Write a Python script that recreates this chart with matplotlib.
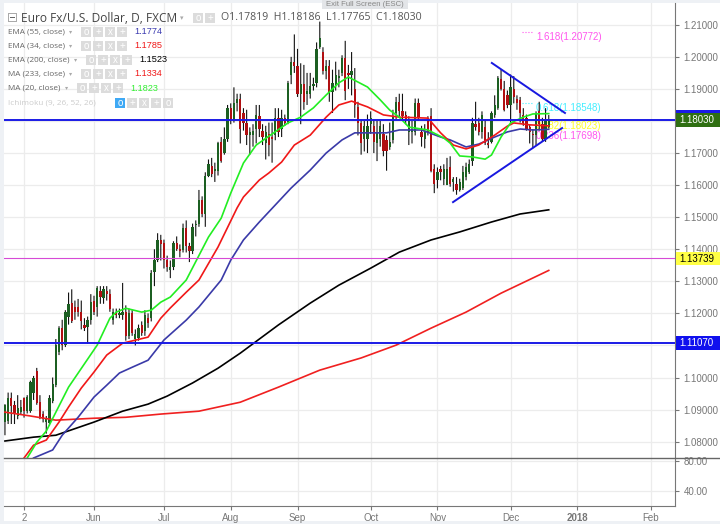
import matplotlib
matplotlib.use('Agg')
import matplotlib.pyplot as plt
from matplotlib.patches import Rectangle

plt.rcParams['font.family'] = ['Liberation Sans', 'DejaVu Sans']

# daily candles
opens = [
    1.0860, 1.0865, 1.0935, 1.0913, 1.0880, 1.0893, 1.0935, 1.0895, 1.0895, 1.0953,
    1.1020, 1.0925, 1.0885, 1.0860, 1.0857, 1.0927, 1.0977, 1.1080, 1.1155, 1.1102,
    1.1190, 1.1232, 1.1220, 1.1220, 1.1205, 1.1165, 1.1158, 1.1180, 1.1238, 1.1220,
    1.1270, 1.1248, 1.1270, 1.1262, 1.1180, 1.1200, 1.1195, 1.1195, 1.1205, 1.1130,
    1.1200, 1.1120, 1.1122, 1.1165, 1.1145, 1.1185, 1.1185, 1.1330, 1.1365, 1.1430,
    1.1420, 1.1365, 1.1335, 1.1345, 1.1420, 1.1400, 1.1397, 1.1465, 1.1410, 1.1395,
    1.1475, 1.1480, 1.1555, 1.1510, 1.1630, 1.1660, 1.1645, 1.1645, 1.1735, 1.1700,
    1.1745, 1.1840, 1.1800, 1.1855, 1.1870, 1.1825, 1.1795, 1.1755, 1.1755, 1.1775,
    1.1815, 1.1770, 1.1730, 1.1760, 1.1750, 1.1755, 1.1810, 1.1775, 1.1810, 1.1797,
    1.1945, 1.1985, 1.1970, 1.1885, 1.1915, 1.1885, 1.1885, 1.1910, 1.1920, 1.2030,
    1.2015, 1.1955, 1.1970, 1.1890, 1.1915, 1.1935, 1.1950, 1.1995, 1.1950, 1.1945,
    1.1900, 1.1845, 1.1795, 1.1745, 1.1745, 1.1790, 1.1785, 1.1730, 1.1745, 1.1760,
    1.1740, 1.1720, 1.1740, 1.1825, 1.1860, 1.1830, 1.1820, 1.1765, 1.1765, 1.1765,
    1.1855, 1.1765, 1.1745, 1.1810, 1.1815, 1.1650, 1.1615, 1.1650, 1.1620, 1.1600,
    1.1655, 1.1610, 1.1605, 1.1585, 1.1590, 1.1625, 1.1640, 1.1675, 1.1790, 1.1795,
    1.1765, 1.1780, 1.1730, 1.1735, 1.1820, 1.1840, 1.1930, 1.1900, 1.1880, 1.1850,
    1.1900, 1.1870, 1.1865, 1.1820, 1.1810, 1.1780, 1.1760, 1.1755, 1.1830, 1.1790,
    1.1745, 1.17819,
]
closes = [
    1.0915, 1.0935, 1.0910, 1.0885, 1.0905, 1.0908, 1.0895, 1.0938, 1.0985, 1.1000,
    1.0920, 1.0875, 1.0870, 1.0870, 1.0935, 1.0980, 1.1100, 1.1155, 1.1100, 1.1205,
    1.1230, 1.1175, 1.1205, 1.1205, 1.1175, 1.1155, 1.1180, 1.1237, 1.1205, 1.1280,
    1.1250, 1.1275, 1.1260, 1.1215, 1.1205, 1.1195, 1.1200, 1.1205, 1.1130, 1.1200,
    1.1140, 1.1135, 1.1155, 1.1140, 1.1195, 1.1170, 1.1325, 1.1365, 1.1430, 1.1415,
    1.1365, 1.1345, 1.1345, 1.1420, 1.1400, 1.1395, 1.1465, 1.1410, 1.1395, 1.1470,
    1.1480, 1.1555, 1.1510, 1.1630, 1.1665, 1.1635, 1.1650, 1.1730, 1.1675, 1.1745,
    1.1840, 1.1805, 1.1855, 1.1870, 1.1775, 1.1795, 1.1755, 1.1765, 1.1770, 1.1820,
    1.1775, 1.1750, 1.1765, 1.1725, 1.1745, 1.1810, 1.1765, 1.1810, 1.1795, 1.1920,
    1.1985, 1.1970, 1.1885, 1.1915, 1.1860, 1.1895, 1.1910, 1.1915, 1.2025, 1.2060,
    1.1955, 1.1970, 1.1890, 1.1920, 1.1945, 1.1940, 1.1995, 1.1895, 1.1945, 1.1955,
    1.1850, 1.1795, 1.1730, 1.1785, 1.1785, 1.1810, 1.1735, 1.1765, 1.1785, 1.1705,
    1.1705, 1.1735, 1.1815, 1.1860, 1.1830, 1.1815, 1.1805, 1.1800, 1.1775, 1.1855,
    1.1810, 1.1750, 1.1770, 1.1765, 1.1645, 1.1605, 1.1640, 1.1640, 1.1650, 1.1650,
    1.1605, 1.1620, 1.1585, 1.1610, 1.1640, 1.1655, 1.1665, 1.1795, 1.1780, 1.1765,
    1.1820, 1.1730, 1.1725, 1.1825, 1.1850, 1.1935, 1.1900, 1.1835, 1.1850, 1.1905,
    1.1875, 1.1855, 1.1825, 1.1795, 1.1775, 1.1765, 1.1755, 1.1825, 1.1790, 1.1745,
    1.1800, 1.18030,
]
highs = [
    1.0917, 1.0953, 1.0953, 1.0927, 1.0945, 1.0930, 1.0938, 1.0945, 1.0990, 1.1005,
    1.1030, 1.0945, 1.0895, 1.0880, 1.0945, 1.1000, 1.1120, 1.1160, 1.1180, 1.1210,
    1.1265, 1.1275, 1.1240, 1.1245, 1.1240, 1.1185, 1.1190, 1.1260, 1.1255, 1.1285,
    1.1285, 1.1285, 1.1285, 1.1275, 1.1215, 1.1215, 1.1215, 1.1295, 1.1225, 1.1215,
    1.1210, 1.1150, 1.1165, 1.1175, 1.1210, 1.1200, 1.1335, 1.1400, 1.1450, 1.1445,
    1.1430, 1.1380, 1.1365, 1.1425, 1.1440, 1.1415, 1.1480, 1.1490, 1.1420, 1.1480,
    1.1490, 1.1585, 1.1565, 1.1640, 1.1680, 1.1685, 1.1670, 1.1735, 1.1750, 1.1780,
    1.1850, 1.1855, 1.1905, 1.1885, 1.1885, 1.1840, 1.1835, 1.1780, 1.1790, 1.1850,
    1.1850, 1.1790, 1.1785, 1.1795, 1.1795, 1.1840, 1.1840, 1.1835, 1.1820, 1.1925,
    1.2000, 1.2070, 1.2025, 1.1980, 1.1975, 1.1950, 1.1950, 1.1935, 1.2045, 1.2110,
    1.2030, 1.1990, 1.1990, 1.1960, 1.1985, 1.1960, 1.2005, 1.2050, 1.1975, 1.2015,
    1.1965, 1.1860, 1.1805, 1.1800, 1.1820, 1.1830, 1.1805, 1.1800, 1.1800, 1.1790,
    1.1755, 1.1795, 1.1835, 1.1875, 1.1885, 1.1885, 1.1830, 1.1815, 1.1800, 1.1870,
    1.1870, 1.1785, 1.1790, 1.1815, 1.1840, 1.1665, 1.1655, 1.1660, 1.1665, 1.1685,
    1.1690, 1.1625, 1.1625, 1.1620, 1.1660, 1.1670, 1.1680, 1.1810, 1.1860, 1.1810,
    1.1830, 1.1805, 1.1765, 1.1830, 1.1880, 1.1940, 1.1960, 1.1925, 1.1895, 1.1945,
    1.1940, 1.1880, 1.1875, 1.1840, 1.1820, 1.1790, 1.1775, 1.1830, 1.1860, 1.1810,
    1.1840, 1.18186,
]
lows = [
    1.0820, 1.0855, 1.0855, 1.0855, 1.0870, 1.0885, 1.0875, 1.0888, 1.0890, 1.0930,
    1.0915, 1.0870, 1.0860, 1.0825, 1.0850, 1.0920, 1.0970, 1.1070, 1.1085, 1.1095,
    1.1165, 1.1170, 1.1180, 1.1190, 1.1150, 1.1145, 1.1105, 1.1165, 1.1195, 1.1190,
    1.1230, 1.1230, 1.1240, 1.1205, 1.1165, 1.1185, 1.1185, 1.1180, 1.1115, 1.1120,
    1.1130, 1.1100, 1.1115, 1.1130, 1.1130, 1.1155, 1.1175, 1.1285, 1.1360, 1.1365,
    1.1340, 1.1330, 1.1310, 1.1335, 1.1395, 1.1375, 1.1390, 1.1390, 1.1360, 1.1385,
    1.1440, 1.1470, 1.1500, 1.1470, 1.1625, 1.1625, 1.1610, 1.1630, 1.1670, 1.1695,
    1.1735, 1.1790, 1.1795, 1.1830, 1.1730, 1.1770, 1.1725, 1.1695, 1.1720, 1.1730,
    1.1750, 1.1725, 1.1680, 1.1690, 1.1670, 1.1740, 1.1750, 1.1750, 1.1785, 1.1790,
    1.1915, 1.1950, 1.1875, 1.1790, 1.1835, 1.1850, 1.1870, 1.1895, 1.1905, 1.2025,
    1.1945, 1.1930, 1.1860, 1.1825, 1.1895, 1.1905, 1.1940, 1.1865, 1.1900, 1.1880,
    1.1810, 1.1755, 1.1695, 1.1705, 1.1700, 1.1760, 1.1700, 1.1675, 1.1720, 1.1690,
    1.1645, 1.1710, 1.1730, 1.1805, 1.1810, 1.1800, 1.1790, 1.1725, 1.1730, 1.1755,
    1.1800, 1.1720, 1.1715, 1.1755, 1.1640, 1.1575, 1.1590, 1.1615, 1.1600, 1.1600,
    1.1595, 1.1580, 1.1570, 1.1580, 1.1585, 1.1615, 1.1635, 1.1660, 1.1770, 1.1755,
    1.1745, 1.1725, 1.1715, 1.1730, 1.1810, 1.1835, 1.1895, 1.1830, 1.1840, 1.1795,
    1.1855, 1.1835, 1.1795, 1.1785, 1.1770, 1.1730, 1.1715, 1.1725, 1.1770, 1.1735,
    1.1735, 1.17765,
]

# moving averages, sampled at a few bars
ma20_x = [7, 10, 13, 20, 29, 33, 35, 38, 43, 46, 49, 52, 57, 64, 68, 71, 75, 79, 89, 93,
          97, 101, 105, 108, 114, 118, 121, 124, 127, 133, 138, 140, 143, 147, 151, 153,
          156, 159, 163, 166, 171]
ma20 = [1.0749, 1.0798, 1.0833, 1.0970, 1.1101, 1.1185, 1.1204, 1.1216, 1.1204, 1.1210,
        1.1235, 1.1251, 1.1304, 1.1438, 1.1497, 1.1575, 1.1669, 1.1725, 1.1794, 1.1812,
        1.1841, 1.1881, 1.1919, 1.1937, 1.1906, 1.1866, 1.1834, 1.1812, 1.1781, 1.1772,
        1.1747, 1.1731, 1.1691, 1.1688, 1.1681, 1.1694, 1.1750, 1.1794, 1.1812, 1.1822,
        1.1823]
ema34_x = [6, 9, 13, 17, 20, 24, 28, 32, 37, 45, 49, 52, 57, 61, 67, 73, 75, 80, 83, 87,
           91, 96, 101, 105, 109, 114, 119, 124, 133, 137, 141, 145, 149, 154, 158, 160,
           165, 171]
ema34 = [1.0749, 1.0789, 1.0805, 1.0861, 1.0908, 1.0967, 1.1017, 1.1070, 1.1107, 1.1126,
         1.1185, 1.1217, 1.1266, 1.1304, 1.1407, 1.1529, 1.1563, 1.1616, 1.1638, 1.1672,
         1.1725, 1.1756, 1.1812, 1.1850, 1.1862, 1.1844, 1.1819, 1.1812, 1.1809, 1.1763,
         1.1725, 1.1713, 1.1725, 1.1756, 1.1784, 1.1794, 1.1788, 1.1785]
ema55_x = [9, 15, 18, 23, 28, 32, 36, 40, 45, 50, 57, 61, 68, 71, 75, 80, 85, 90, 96, 101,
           106, 110, 116, 120, 124, 131, 137, 140, 145, 149, 154, 158, 162, 166, 171]
ema55 = [1.0749, 1.0774, 1.0820, 1.0876, 1.0939, 1.0976, 1.1014, 1.1032, 1.1054, 1.1117,
         1.1179, 1.1220, 1.1304, 1.1366, 1.1429, 1.1485, 1.1538, 1.1591, 1.1647, 1.1700,
         1.1741, 1.1763, 1.1763, 1.1763, 1.1772, 1.1772, 1.1750, 1.1741, 1.1719, 1.1728,
         1.1750, 1.1766, 1.1775, 1.1772, 1.1774]
ema200_x = [0, 9, 16, 28, 37, 45, 51, 59, 67, 74, 86, 96, 105, 115, 124, 134, 143, 153,
            162, 171]
ema200 = [1.0802, 1.0814, 1.0820, 1.0861, 1.0895, 1.0917, 1.0942, 1.0983, 1.1029, 1.1076,
          1.1164, 1.1232, 1.1288, 1.1341, 1.1391, 1.1429, 1.1454, 1.1485, 1.1510, 1.1523]
ma233_x = [0, 8, 16, 28, 38, 49, 61, 74, 86, 99, 112, 123, 134, 145, 156, 171]
ma233 = [1.0892, 1.0880, 1.0867, 1.0873, 1.0876, 1.0886, 1.0895, 1.0923, 1.0970, 1.1023,
         1.1061, 1.1101, 1.1154, 1.1204, 1.1263, 1.1334]

# triangle drawn on the chart
falling_x = [153.1, 176.1]
falling_y = [1.1981, 1.1825]
rising_x = [140.9, 175.2]
rising_y = [1.1547, 1.1778]

price_ticks = [1.08, 1.09, 1.10, 1.11, 1.12, 1.13, 1.14, 1.15, 1.16, 1.17, 1.18, 1.19, 1.20, 1.21]
hidden_ticks = [1.11, 1.18]  # covered by the price tags
osc_ticks = [40, 80]
date_ticks = [6, 28, 50, 71, 92, 115, 136, 159, 180, 203]
date_labels = ['2', 'Jun', 'Jul', 'Aug', 'Sep', 'Oct', 'Nov', 'Dec', '2018', 'Feb']

legend_names = ['EMA (55, close)', 'EMA (34, close)', 'EMA (200, close)', 'MA (233, close)', 'MA (20, close)']
legend_values = ['1.1774', '1.1785', '1.1523', '1.1334', '1.1823']
legend_colors = ['#3a3ab0', '#f01818', '#000000', '#f01818', '#33ee33']
legend_icons_x = [81, 81, 86, 81, 77]
legend_value_x = [134, 134, 139, 134, 130]

fib_labels = ['1.618(1.20772)', '0.618(1.18548)', '0.382(1.18023)', '0.236(1.17698)']
fib_prices = [1.2062, 1.1841, 1.1784, 1.1753]
fib_colors = ['#ff55ee', '#44eeff', '#ffff22', '#ff55ee']

W, H = 720, 524
GREY = '#777777'
fig = plt.figure(figsize=(W / 100, H / 100), dpi=100, facecolor='#eef1f5')


def fx(x):
    return x / W


def fy(y):
    return 1 - y / H


def box(x0, y0, x1, y1, color, z=5, **kw):
    fig.add_artist(Rectangle((fx(x0), fy(y1)), (x1 - x0) / W, (y1 - y0) / H,
                             transform=fig.transFigure, facecolor=color, edgecolor='none', zorder=z, **kw))


box(4, 3, 720, 521, 'white', z=0)

ax = fig.add_axes([fx(4), fy(458), 671 / W, 455 / H])
ax2 = fig.add_axes([fx(4), fy(506), 671 / W, 48 / H], sharex=ax)
for a in (ax, ax2):
    a.patch.set_alpha(0)
    a.set_axisbelow(True)
    a.grid(True, color='#ececec', linewidth=0.9)
    a.yaxis.tick_right()
    a.tick_params(axis='y', length=3, width=0.8, color=GREY, labelcolor=GREY, labelsize=7, pad=3)
    for s in ('top', 'left'):
        a.spines[s].set_visible(False)
    a.spines['right'].set_color(GREY)
    a.spines['bottom'].set_color(GREY)

ax.set_xlim(-0.3, 210.7)
ax.set_ylim(1.0749, 1.2168)
ax.set_yticks(price_ticks)
ax.set_yticklabels(['' if p in hidden_ticks else '%.5f' % p for p in price_ticks])
ax.spines['bottom'].set_visible(False)
ax.tick_params(axis='x', length=0, labelbottom=False)

ax2.set_ylim(20.7, 83.6)
ax2.set_yticks(osc_ticks)
ax2.set_yticklabels(['%.2f' % p for p in osc_ticks])
ax2.set_xticks(date_ticks)
ax2.set_xticklabels(date_labels)
ax2.tick_params(axis='x', length=3, width=0.8, color=GREY, labelcolor=GREY, labelsize=7, pad=2)
ax2.get_xticklabels()[8].set_fontweight('bold')

# fib labels sit under the candles
for lab, p, c in zip(fib_labels, fib_prices, fib_colors):
    ax.text(167, p, lab, color=c, fontsize=7, va='center', ha='left', zorder=1.5)
ax.plot([162.5, 166.2], [1.2078, 1.2078], color='#ff55ee', lw=0.8, ls=':', zorder=1.5)
ax.plot([162.5, 166.2], [1.1856, 1.1856], color='#44eeff', lw=0.8, ls=':', zorder=1.5)

# candles
xs = list(range(len(opens)))
up = [c >= o for o, c in zip(opens, closes)]
colors = ['#1c5f22' if u else '#b00f12' for u in up]
ax.vlines(xs, lows, highs, colors='#111111', linewidth=0.8, zorder=2, snap=False)
bottoms = [min(o, c) for o, c in zip(opens, closes)]
sizes = [max(abs(c - o), 0.0002) for o, c in zip(opens, closes)]
ax.bar(xs, sizes, bottom=bottoms, width=0.72, color=colors, linewidth=0, zorder=3)

# averages
ax.plot(ma233_x, ma233, color='#f02020', lw=1.2, zorder=4)
ax.plot(ema200_x, ema200, color='#000000', lw=1.2, zorder=4)
ax.plot(ema55_x, ema55, color='#3a3aa8', lw=1.2, zorder=4)
ax.plot(ema34_x, ema34, color='#f01818', lw=1.2, zorder=4)
ax.plot(ma20_x, ma20, color='#22ee22', lw=1.2, zorder=4)

# levels and triangle
ax.axhline(1.1803, color='#1a1ae6', lw=1.4, zorder=5)
ax.axhline(1.1107, color='#1a1ae6', lw=1.4, zorder=5)
ax.axhline(1.13739, color='#d64ad6', lw=0.8, zorder=5)
ax.plot(falling_x, falling_y, color='#1818e0', lw=1.4, zorder=5)
ax.plot(rising_x, rising_y, color='#1818e0', lw=1.4, zorder=5)

# price tags on the scale
box(676, 110, 720, 114, '#1a1ae6', z=6)
box(676, 113, 720, 127, '#2f6f12', z=6)
box(676, 252, 720, 265, '#ffff44', z=6)
box(676, 336, 720, 350, '#1010ee', z=6)
fig.text(fx(679), fy(120), '1.18030', color='white', fontsize=7, va='center', zorder=7)
fig.text(fx(679), fy(259), '1.13739', color='black', fontsize=7, va='center', zorder=7)
fig.text(fx(679), fy(343), '1.11070', color='white', fontsize=7, va='center', zorder=7)

# separator between panes runs to the edge
fig.add_artist(plt.Line2D([fx(4), 1], [fy(458), fy(458)], color='#666666', lw=1, zorder=6))


def icons(x, y, n, first=None):
    for k in range(n):
        c = '#dcdcdc'
        if first and k == 0:
            c = first
        x0 = x + k * 12
        box(x0, y - 5, x0 + 10, y + 5, c, z=6)
        fig.text(fx(x0 + 5), fy(y), ['o', '+', 'x', '+'][k % 4], color='white', fontsize=7, ha='center',
                 va='center', zorder=7)


# header
box(8, 13, 17, 22, '#aaaaaa', z=6)
box(9, 14, 16, 21, 'white', z=6)
box(10, 17, 15, 18, '#666666', z=6)
fig.text(fx(21), fy(18), 'Euro Fx/U.S. Dollar, D, FXCM', fontfamily='Open Sans', fontsize=8.6, color='#444444',
         va='center', zorder=7)
fig.text(fx(180), fy(18), '▾', color='#aaaaaa', fontsize=5, va='center', zorder=7, fontfamily='DejaVu Sans')
icons(193, 18, 2)
fig.text(fx(221), fy(18), 'O1.17819  H1.18186  L1.17765  C1.18030', fontfamily='Open Sans', fontsize=7.6,
         color='#555555', va='center', zorder=7)

# study legend
row_y = [32, 46, 60, 74, 88]
for name, val, c, ix, vx, y in zip(legend_names, legend_values, legend_colors, legend_icons_x, legend_value_x, row_y):
    fig.text(fx(8), fy(y), name, fontfamily='Open Sans', fontsize=5.9, color='#666666', va='center', zorder=7)
    fig.text(fx(ix - 12), fy(y), '▾', color='#aaaaaa', fontsize=4.5, va='center', zorder=7, fontfamily='DejaVu Sans')
    icons(ix, y, 4)
    fig.text(fx(vx), fy(y), val, color=c, fontsize=6.6, va='center', zorder=7)
fig.text(fx(8), fy(103), 'Ichimoku (9, 26, 52, 26)', fontfamily='Open Sans', fontsize=5.9, color='#cccccc',
         va='center', zorder=7)
icons(115, 103, 5, first='#3fa9f5')

# tab left by the browser
box(322, 0, 408, 9, '#e3e5e8', z=8)
fig.text(fx(365), fy(4), 'Exit Full Screen (ESC)', color='#888888', fontsize=5.6, ha='center', va='center', zorder=9)

fig.savefig('out.png', dpi=100, facecolor=fig.get_facecolor())
